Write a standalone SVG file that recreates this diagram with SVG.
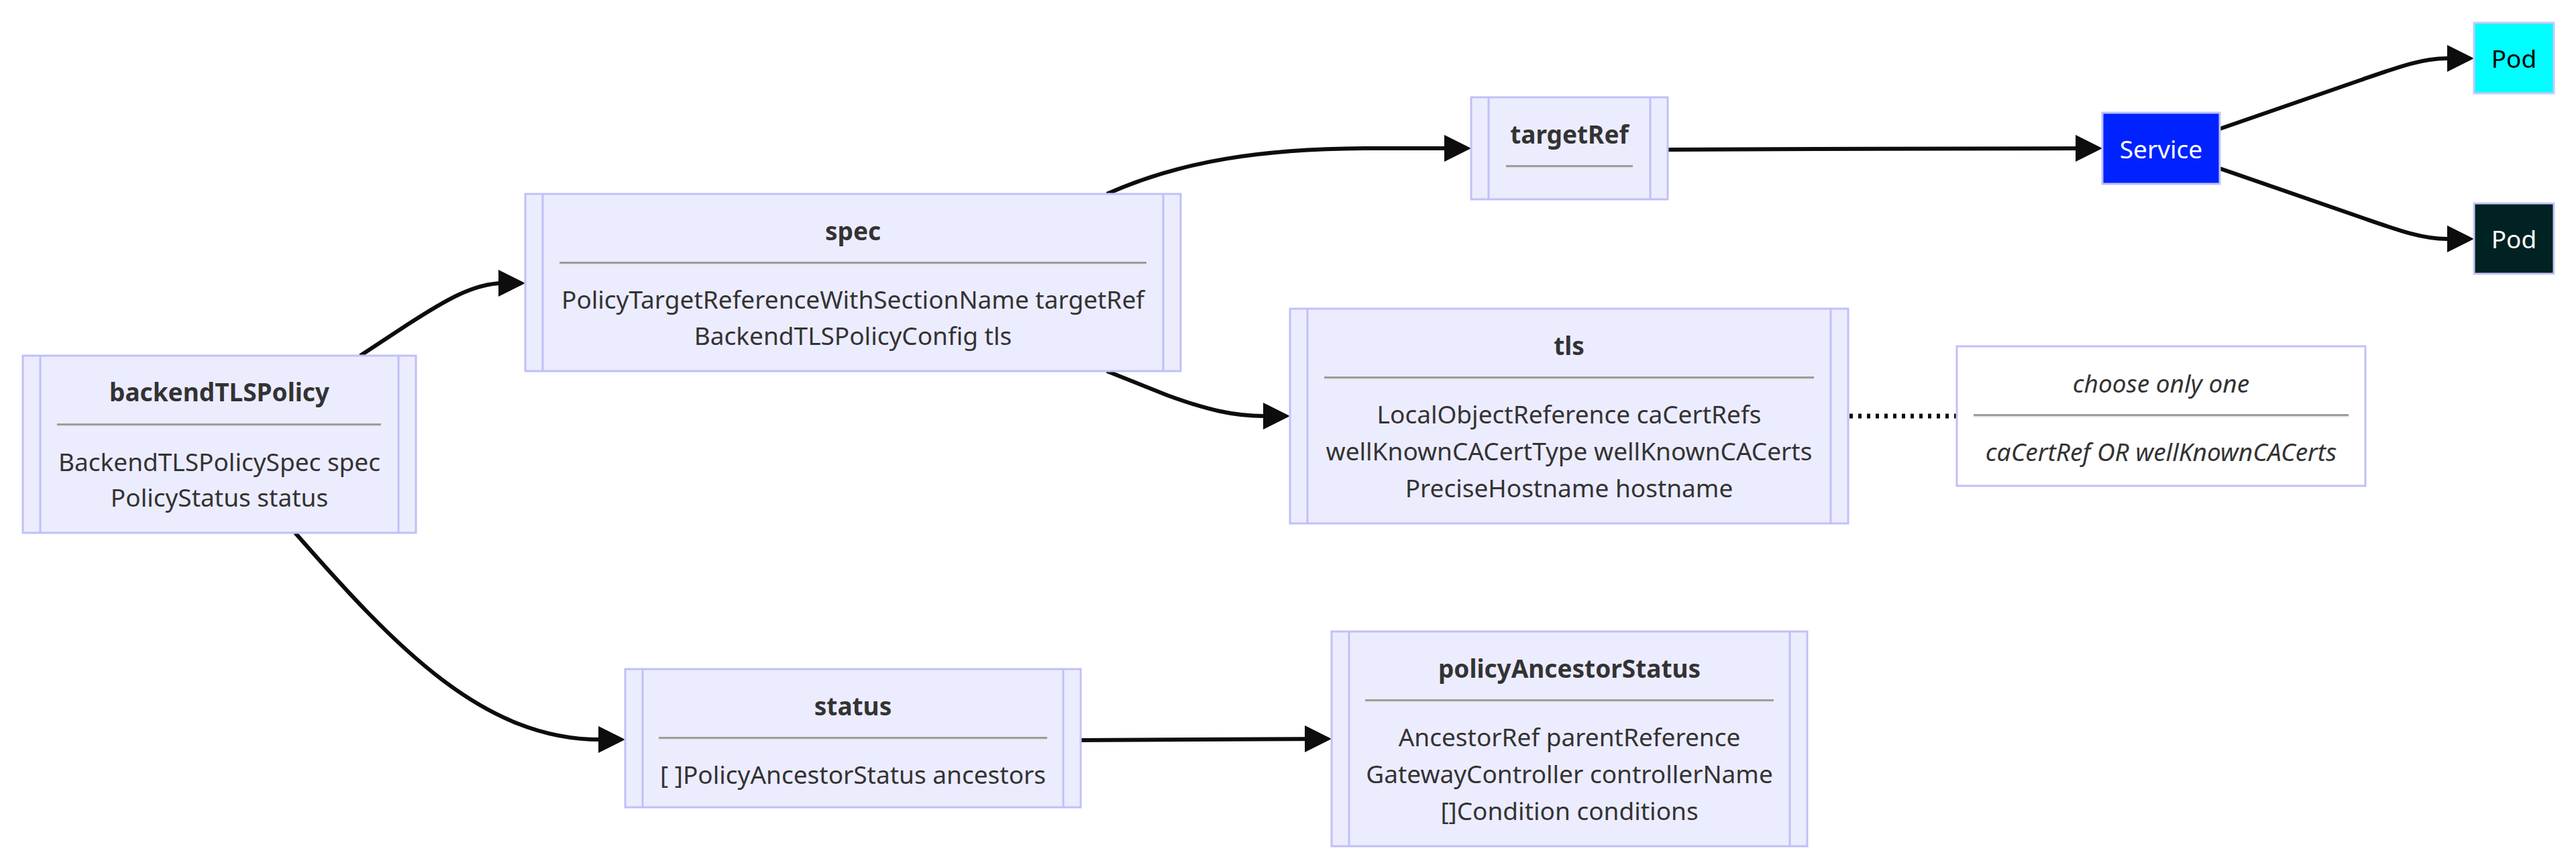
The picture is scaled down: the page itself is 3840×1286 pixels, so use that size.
<svg xmlns="http://www.w3.org/2000/svg" width="3840" height="1286" viewBox="0 0 3840 1286">
<style>
  .box { fill: #ececff; stroke: #c0c0f8; stroke-width: 3; }
  .sub { stroke: #c0c0f8; stroke-width: 3; }
  .note { fill: #ffffff; stroke: #c0c0f8; stroke-width: 3; }
  .t { font-family: "Noto Sans", "Open Sans", sans-serif; font-size: 37px; fill: #333333; text-anchor: middle; dominant-baseline: central; }
  .b { font-weight: bold; }
  .i { font-style: italic; }
  .hr1 { fill: #9c9c9c; }
  .hr2 { fill: #e8e8e8; }
  .edge { fill: none; stroke: #0d0d0d; stroke-width: 6; }
  .dot { fill: none; stroke: #0d0d0d; stroke-width: 7; stroke-dasharray: 5 8; }
</style>
<defs>
  <marker id="arrow" viewBox="0 0 10 10" refX="8" refY="5" markerWidth="40" markerHeight="40" markerUnits="userSpaceOnUse" orient="auto">
    <path d="M0,0 L10,5 L0,10 z" fill="#0d0d0d"/>
  </marker>
</defs>
<rect width="3840" height="1286" fill="#ffffff"/>

<g id="connectors">
  <path class="edge" d="M537,530 L610,482 C660,450 705,422 750,422 L775,422" marker-end="url(#arrow)"/>
  <path class="edge" d="M440,794 C590,965 720,1102 895,1102 L924,1102" marker-end="url(#arrow)"/>
  <path class="edge" d="M1650,289 C1760,240 1880,221 2050,221 L2185,221" marker-end="url(#arrow)"/>
  <path class="edge" d="M1650,553 L1740,589 C1800,611 1840,620 1885,620 L1915,620" marker-end="url(#arrow)"/>
  <path class="edge" d="M2486,223 C2700,222 2900,221 3126,221" marker-end="url(#arrow)"/>
  <path class="edge" d="M3309,192 L3520,119 C3575,100 3610,87 3647,87 L3680,87" marker-end="url(#arrow)"/>
  <path class="edge" d="M3309,251 L3520,324 C3575,343 3610,356 3647,356 L3680,356" marker-end="url(#arrow)"/>
  <path class="edge" d="M1611,1103 C1700,1102 1800,1101 1977,1101" marker-end="url(#arrow)"/>
  <path class="dot" d="M2757,620 L2917,620"/>
</g>

<g id="backendTLSPolicy">
  <rect class="box" x="34" y="530" width="586" height="264"/>
  <line class="sub" x1="60" y1="530" x2="60" y2="794"/>
  <line class="sub" x1="594" y1="530" x2="594" y2="794"/>
  <text class="t b" x="327" y="583">backendTLSPolicy</text>
  <rect class="hr1" x="85" y="631" width="483" height="3"/>
  <rect class="hr2" x="85" y="634" width="483" height="2"/>
  <text class="t" x="327" y="687">BackendTLSPolicySpec spec</text>
  <text class="t" x="327" y="740">PolicyStatus status</text>
</g>

<g id="spec">
  <rect class="box" x="783" y="289" width="977" height="264"/>
  <line class="sub" x1="809" y1="289" x2="809" y2="553"/>
  <line class="sub" x1="1734" y1="289" x2="1734" y2="553"/>
  <text class="t b" x="1271.5" y="343">spec</text>
  <rect class="hr1" x="834" y="390" width="875" height="3"/>
  <rect class="hr2" x="834" y="393" width="875" height="2"/>
  <text class="t" x="1271.5" y="445">PolicyTargetReferenceWithSectionName targetRef</text>
  <text class="t" x="1271.5" y="499">BackendTLSPolicyConfig tls</text>
</g>

<g id="targetRef">
  <rect class="box" x="2193" y="145" width="293" height="152"/>
  <line class="sub" x1="2219" y1="145" x2="2219" y2="297"/>
  <line class="sub" x1="2460" y1="145" x2="2460" y2="297"/>
  <text class="t b" x="2339.5" y="199">targetRef</text>
  <rect class="hr1" x="2245" y="246" width="189" height="3"/>
  <rect class="hr2" x="2245" y="249" width="189" height="2"/>
</g>

<g id="tls">
  <rect class="box" x="1923" y="460" width="832" height="320"/>
  <line class="sub" x1="1949" y1="460" x2="1949" y2="780"/>
  <line class="sub" x1="2729" y1="460" x2="2729" y2="780"/>
  <text class="t b" x="2339" y="514">tls</text>
  <rect class="hr1" x="1974" y="561" width="730" height="3"/>
  <rect class="hr2" x="1974" y="564" width="730" height="2"/>
  <text class="t" x="2339" y="616">LocalObjectReference caCertRefs</text>
  <text class="t" x="2339" y="671">wellKnownCACertType wellKnownCACerts</text>
  <text class="t" x="2339" y="726">PreciseHostname hostname</text>
</g>

<g id="note">
  <rect class="note" x="2917" y="516" width="609" height="208"/>
  <text class="t i" x="3221.5" y="570">choose only one</text>
  <rect class="hr1" x="2942" y="617" width="559" height="3"/>
  <rect class="hr2" x="2942" y="620" width="559" height="2"/>
  <text class="t i" x="3221.5" y="672">caCertRef OR wellKnownCACerts</text>
</g>

<g id="status">
  <rect class="box" x="932" y="997" width="679" height="206"/>
  <line class="sub" x1="958" y1="997" x2="958" y2="1203"/>
  <line class="sub" x1="1585" y1="997" x2="1585" y2="1203"/>
  <text class="t b" x="1271.5" y="1051">status</text>
  <rect class="hr1" x="982" y="1098" width="579" height="3"/>
  <rect class="hr2" x="982" y="1101" width="579" height="2"/>
  <text class="t" x="1271.5" y="1153">[ ]PolicyAncestorStatus ancestors</text>
</g>

<g id="policyAncestorStatus">
  <rect class="box" x="1985" y="941" width="709" height="320"/>
  <line class="sub" x1="2011" y1="941" x2="2011" y2="1261"/>
  <line class="sub" x1="2668" y1="941" x2="2668" y2="1261"/>
  <text class="t b" x="2339.5" y="995">policyAncestorStatus</text>
  <rect class="hr1" x="2035" y="1042" width="609" height="3"/>
  <rect class="hr2" x="2035" y="1045" width="609" height="2"/>
  <text class="t" x="2339.5" y="1097">AncestorRef parentReference</text>
  <text class="t" x="2339.5" y="1152">GatewayController controllerName</text>
  <text class="t" x="2339.5" y="1207">[]Condition conditions</text>
</g>

<g id="service">
  <rect x="3134" y="168" width="175" height="106" fill="#0022ff" stroke="#c0c0f8" stroke-width="3"/>
  <text class="t" x="3221.5" y="221" style="fill:#ffffff">Service</text>
</g>

<g id="pod1">
  <rect x="3688" y="34" width="119" height="105" fill="#00ffff" stroke="#c8c8f8" stroke-width="3"/>
  <text class="t" x="3747.5" y="86.5" style="fill:#000000">Pod</text>
</g>

<g id="pod2">
  <rect x="3688" y="303" width="119" height="105" fill="#012223" stroke="#c8c8f8" stroke-width="3"/>
  <text class="t" x="3747.5" y="355.5" style="fill:#ffffff">Pod</text>
</g>
</svg>
